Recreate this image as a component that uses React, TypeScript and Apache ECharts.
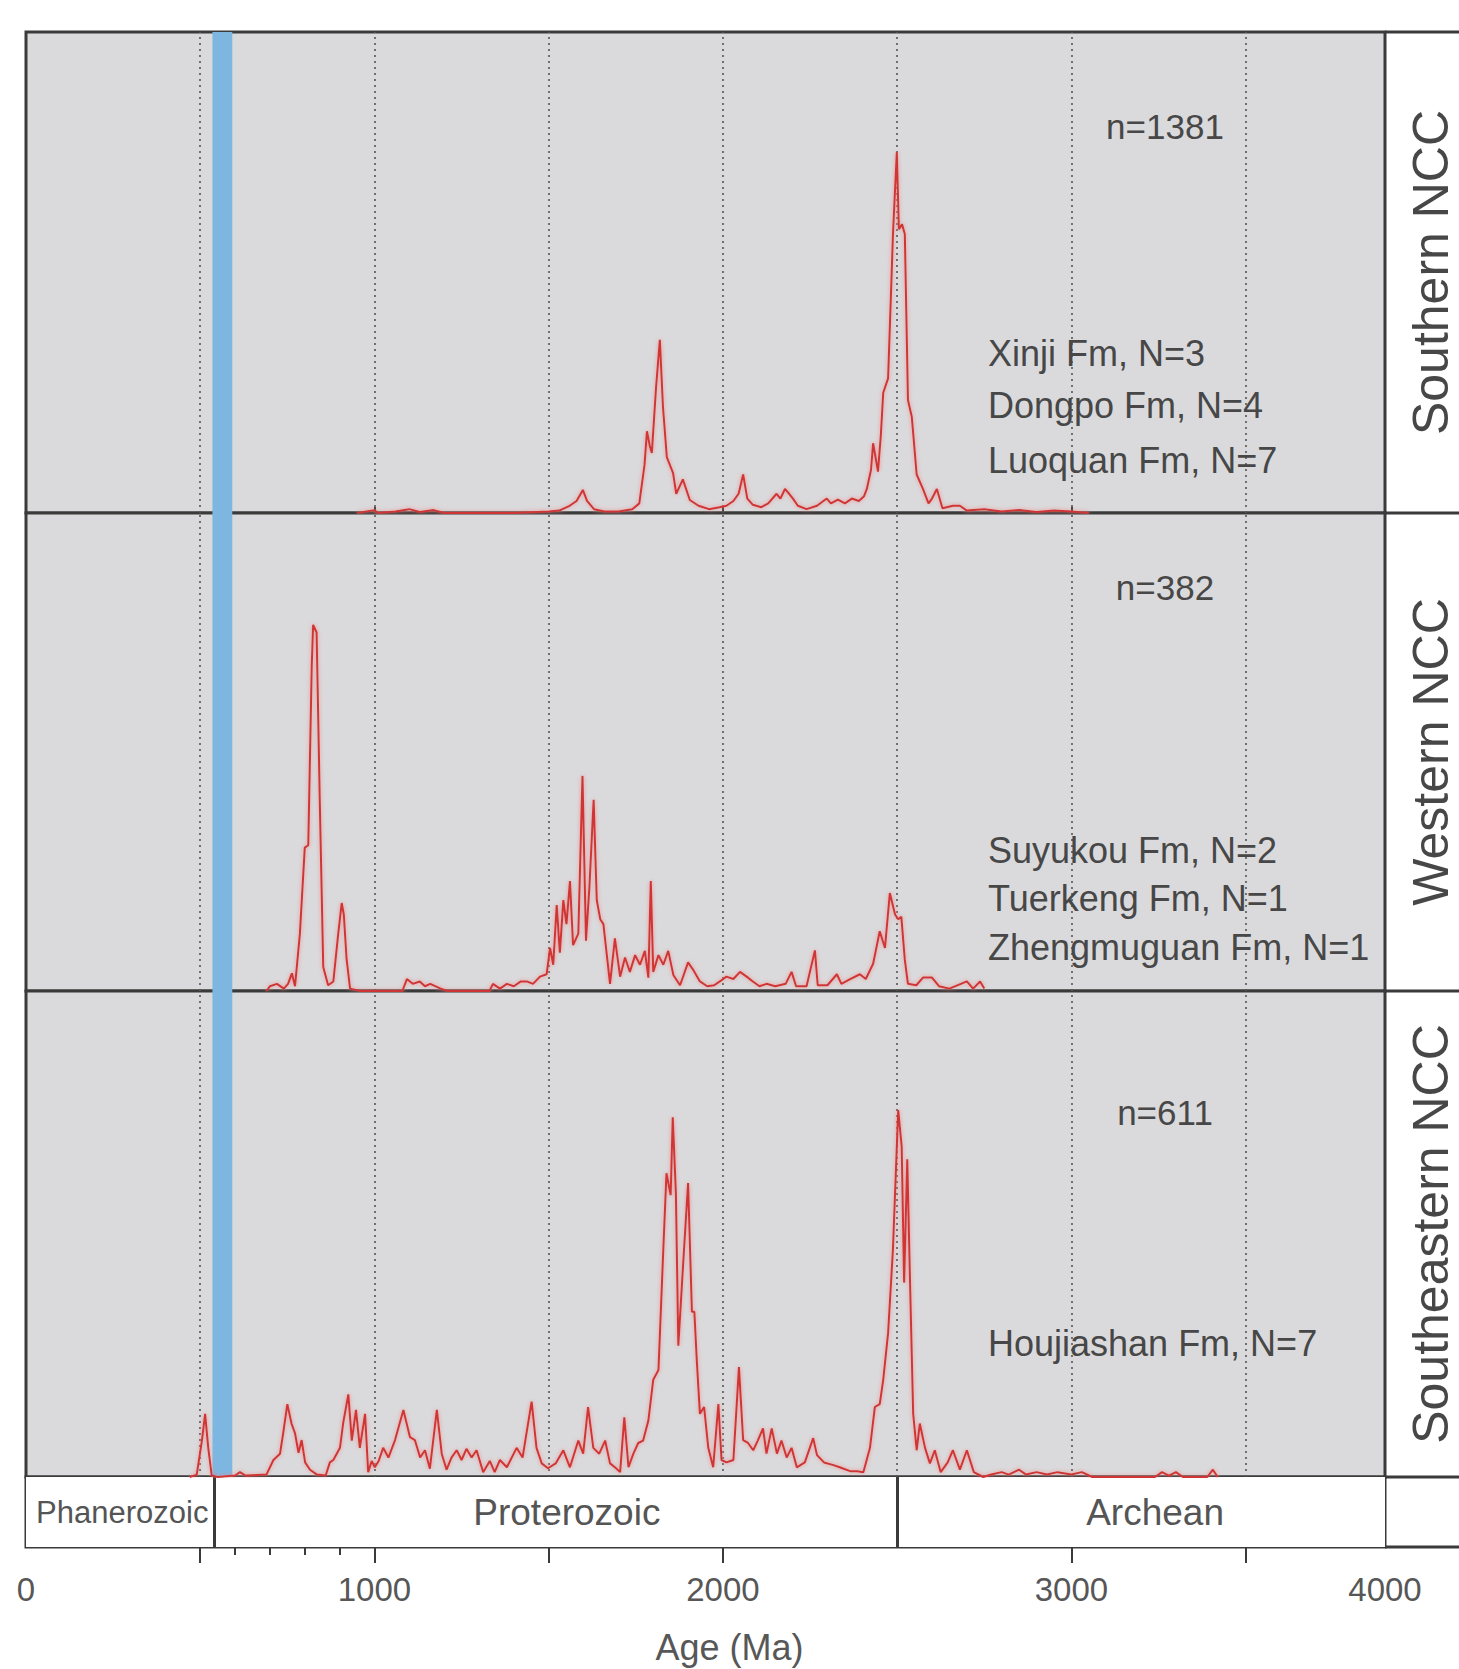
import React, { useEffect, useRef } from "react";
import * as echarts from "echarts";

// ---------- data ----------
const regions = ["Southern NCC", "Western NCC", "Southeastern NCC"];
const sampleCounts = ["n=1381", "n=382", "n=611"];
const formations = [
  ["Xinji Fm, N=3", "Dongpo Fm, N=4", "Luoquan Fm, N=7"],
  ["Suyukou Fm, N=2", "Tuerkeng Fm, N=1", "Zhengmuguan Fm, N=1"],
  ["Houjiashan Fm, N=7"],
];
const eonNames = ["Phanerozoic", "Proterozoic", "Archean"];
const eonBounds = [0, 541, 2500, 3900];
const gridLines = [500, 1000, 1500, 2000, 2500, 3000, 3500];
const blueBand = [535, 592];
const axisLabelValues = [0, 1000, 2000, 3000, 3900];
const majorTicks = [500, 1000, 1500, 2000, 3000, 3500];
const minorTicks = [600, 700, 800, 900];

// relative probability (% of panel height) vs age (Ma)
const southern = [
  [950, 0], [1000, 0.6], [1010, 0], [1060, 0.3], [1100, 0.8], [1130, 0.2], [1170, 0.6], [1200, 0],
  [1400, 0], [1500, 0.3], [1530, 0.5], [1560, 1.5], [1580, 2.5], [1598, 4.8], [1610, 2.5], [1630, 0.8],
  [1660, 0.3], [1700, 0.3], [1740, 0.8], [1760, 2], [1775, 10], [1782, 17], [1790, 14], [1796, 12.5],
  [1808, 26], [1819, 36], [1828, 22], [1839, 11.6], [1857, 8.3], [1866, 4], [1885, 7], [1905, 2.7],
  [1930, 1.5], [1960, 0.8], [1990, 1.2], [2010, 1.5], [2030, 2.5], [2045, 4], [2058, 8], [2070, 3],
  [2086, 1.7], [2110, 1.2], [2130, 2], [2154, 4], [2165, 3], [2178, 5], [2190, 4], [2201, 3],
  [2215, 1.5], [2240, 0.8], [2270, 1.5], [2298, 3], [2310, 2], [2330, 2.8], [2350, 2], [2370, 3],
  [2390, 2.5], [2405, 3.5], [2413, 5], [2425, 9], [2431, 14.5], [2445, 8.6], [2453, 16], [2460, 25],
  [2474, 28], [2482, 45], [2488, 58], [2499, 75], [2505, 59], [2514, 60], [2522, 58], [2531, 23.5],
  [2542, 20], [2556, 8], [2574, 5], [2590, 2], [2600, 3], [2614, 5], [2630, 1], [2660, 1.5],
  [2680, 1.5], [2700, 0.5], [2750, 0.8], [2800, 0.3], [2850, 0.6], [2900, 0.2], [2950, 0.5],
  [3000, 0.3], [3050, 0],
];
const western = [
  [690, 0], [700, 1], [720, 1.5], [740, 0.5], [752, 1.5], [763, 3.7], [772, 1], [786, 12], [800, 30],
  [810, 30.5], [820, 68], [824, 76.6], [834, 75], [843, 40], [853, 5], [867, 1.2], [882, 2], [896, 12],
  [906, 18.4], [912, 16], [920, 6.7], [930, 0.5], [960, 0], [1080, 0], [1093, 2.5], [1110, 1.5],
  [1130, 2], [1145, 1], [1160, 1.5], [1190, 0.5], [1210, 0], [1330, 0], [1340, 1.5], [1360, 0.5],
  [1380, 1.5], [1400, 1], [1420, 2], [1437, 2], [1455, 1.5], [1475, 3], [1494, 3.5], [1504, 9],
  [1513, 5.5], [1523, 18], [1532, 8], [1542, 19], [1551, 14], [1561, 23], [1570, 9.6], [1585, 12],
  [1597, 45], [1607, 10.5], [1617, 22], [1629, 40], [1638, 19], [1648, 15], [1657, 14], [1676, 1.5],
  [1690, 11], [1705, 3], [1719, 7], [1733, 4], [1748, 7.5], [1762, 5.5], [1776, 8.4], [1786, 2.8],
  [1793, 23], [1800, 4], [1815, 7.5], [1829, 5.5], [1843, 8.4], [1858, 3.3], [1877, 1.2], [1900, 6],
  [1915, 4.4], [1934, 2], [1955, 1], [1975, 1.2], [1991, 2], [2010, 3], [2030, 2.5], [2049, 4],
  [2068, 3], [2086, 2], [2105, 1], [2125, 1.5], [2150, 1], [2180, 1.5], [2197, 4], [2210, 1],
  [2240, 1], [2264, 8.5], [2272, 1.2], [2300, 1.2], [2327, 3.5], [2340, 1.5], [2365, 2.5],
  [2393, 3.5], [2410, 2.5], [2431, 5.7], [2450, 12.5], [2465, 9], [2479, 20.5], [2494, 16],
  [2503, 15], [2512, 15.5], [2522, 6.5], [2531, 1.5], [2555, 1.2], [2574, 2.8], [2600, 2.8],
  [2620, 1], [2650, 0.5], [2700, 2], [2718, 0.5], [2738, 2], [2750, 0.5],
];
const southeastern = [
  [470, 0], [490, 0.5], [505, 7.6], [514, 13], [523, 6], [533, 0.3], [550, 0], [600, 0.3], [614, 1],
  [630, 0.3], [690, 0.5], [710, 3.5], [729, 4.8], [738, 9], [750, 15], [762, 11], [772, 9], [782, 5],
  [791, 7.6], [801, 3], [815, 1.5], [835, 0.5], [860, 0.3], [872, 3], [882, 3.5], [901, 6], [910, 11],
  [925, 17], [935, 7.5], [947, 13.8], [958, 6], [973, 13], [982, 1], [992, 3.3], [1001, 2],
  [1012, 3.3], [1025, 6], [1040, 4], [1059, 7.6], [1083, 13.8], [1102, 8.2], [1116, 7.6], [1131, 4],
  [1145, 5.5], [1159, 1.7], [1179, 13.8], [1193, 4.8], [1207, 1.5], [1221, 4], [1236, 5.5],
  [1250, 3.5], [1264, 5.8], [1279, 4], [1293, 5.5], [1312, 1], [1331, 3.3], [1345, 1], [1360, 3.5],
  [1380, 2], [1408, 6], [1425, 4], [1451, 15.5], [1465, 6], [1480, 2.8], [1498, 1.8], [1520, 2.8],
  [1542, 5.5], [1561, 2], [1585, 7.5], [1599, 4.8], [1613, 14.4], [1628, 6], [1645, 4.8],
  [1662, 7.5], [1676, 2.8], [1690, 2], [1705, 1], [1717, 12.3], [1729, 2], [1743, 4.8], [1757, 7],
  [1771, 7.5], [1786, 11.6], [1800, 20], [1815, 22], [1829, 47], [1838, 62.5], [1850, 58],
  [1856, 74], [1865, 58.5], [1872, 27], [1886, 44], [1900, 60.5], [1911, 34], [1918, 34], [1925, 24],
  [1934, 13], [1946, 14.4], [1958, 6], [1972, 2], [1987, 15], [1996, 3.5], [2010, 3], [2030, 3.5],
  [2046, 22.6], [2058, 7.6], [2072, 7], [2087, 5.5], [2100, 7.5], [2115, 10], [2125, 4.8],
  [2140, 10], [2155, 4.8], [2168, 7.5], [2183, 4], [2197, 6], [2212, 2], [2235, 3], [2259, 8],
  [2270, 4.5], [2290, 3], [2315, 2.5], [2335, 2], [2365, 1.2], [2385, 1.2], [2403, 1], [2422, 6],
  [2436, 14.4], [2450, 15], [2460, 20], [2474, 29.6], [2488, 47], [2503, 75.5], [2513, 68],
  [2520, 40], [2529, 65.4], [2537, 40], [2546, 13], [2556, 5.5], [2565, 11], [2580, 6], [2594, 2.8],
  [2608, 5.5], [2625, 1], [2645, 3], [2660, 5.5], [2680, 1.5], [2700, 5.5], [2720, 1], [2747, 0],
  [2770, 0.5], [2800, 1], [2820, 0.5], [2850, 1.5], [2870, 0.5], [2900, 1], [2930, 0.5], [2960, 1],
  [3000, 0.5], [3030, 1], [3060, 0], [3240, 0], [3260, 1], [3280, 0.3], [3300, 1], [3320, 0],
  [3390, 0], [3406, 1.5], [3420, 0],
];
const panelSeries = [southern, western, southeastern];

// ---------- layout ----------
const W = 1459;
const H = 1669;
const LEFT = 26;
const RIGHT_EDGE = 1385;
const panels = [
  { top: 32, height: 481 },
  { top: 513, height: 478 },
  { top: 991, height: 486 },
];
const eonRow = { top: 1477, height: 70 };
const eonLabelStyle = [
  { fontSize: 31, offset: [2, 0] },
  { fontSize: 37, offset: [11, 0] },
  { fontSize: 37, offset: [14, 0] },
];
const countY = [126, 587, 1112];
const formationY = [[353, 405, 460], [850, 898, 947], [1343]];
const FONT = "'Liberation Sans', Arial, Helvetica, sans-serif";
const BORDER = "#3a3a3a";
const TEXT = "#474747";

export default function App() {
  const ref = useRef<HTMLDivElement>(null);

  useEffect(() => {
    document.body.style.margin = "0";
    if (!ref.current) return;
    const chart = echarts.init(ref.current, undefined, { renderer: "svg" });

    const grids: any[] = panels.map((p) => ({
      left: LEFT,
      top: p.top,
      width: RIGHT_EDGE - LEFT,
      height: p.height,
      outerBoundsMode: "none",
      containLabel: false,
      show: true,
      backgroundColor: "#dadadc",
      borderColor: BORDER,
      borderWidth: 3,
    }));
    grids.push({
      left: LEFT,
      top: eonRow.top,
      width: RIGHT_EDGE - LEFT,
      height: eonRow.height,
      outerBoundsMode: "none",
      containLabel: false,
      show: true,
      backgroundColor: "#ffffff",
      borderColor: BORDER,
      borderWidth: 3,
    });

    const xAxes: any[] = panels.map((_, i) => ({
      type: "value",
      gridIndex: i,
      min: 0,
      max: 3900,
      interval: 500,
      axisLine: { show: false },
      axisLabel: { show: false },
      splitLine: { show: false },
      axisTick:
        i === 0
          ? {
              show: true,
              inside: true,
              length: 6,
              customValues: [1000, 2000, 3000],
              lineStyle: { color: BORDER, width: 2 },
            }
          : { show: false },
    }));
    xAxes.push({
      type: "value",
      gridIndex: 3,
      min: 0,
      max: 3900,
      interval: 500,
      position: "bottom",
      axisLine: { show: false },
      splitLine: { show: false },
      axisTick: {
        show: true,
        length: 16,
        customValues: majorTicks,
        lineStyle: { color: BORDER, width: 2 },
      },
      axisLabel: {
        show: true,
        customValues: axisLabelValues,
        margin: 26,
        fontSize: 33,
        color: "#575757",
        fontFamily: FONT,
        // the reference frame ends at the position labelled "4000"
        formatter: (v: number) => (v === 3900 ? "4000" : String(v)),
      },
      name: "Age (Ma)",
      nameLocation: "middle",
      nameGap: 82,
      nameTextStyle: {
        fontSize: 36,
        lineHeight: 36,
        color: "#575757",
        fontFamily: FONT,
        padding: [0, 0, 0, 48],
      },
    });
    xAxes.push({
      type: "value",
      gridIndex: 3,
      min: 0,
      max: 3900,
      interval: 500,
      position: "bottom",
      axisLine: { show: false },
      splitLine: { show: false },
      axisLabel: { show: false },
      axisTick: {
        show: true,
        length: 8,
        customValues: minorTicks,
        lineStyle: { color: BORDER, width: 2 },
      },
    });

    const yAxes: any[] = panels.map((_, i) => ({
      type: "value",
      gridIndex: i,
      min: 0,
      max: 100,
      position: "right",
      axisLine: { show: false },
      axisTick: { show: false },
      axisLabel: { show: false },
      splitLine: { show: false },
      name: regions[i],
      nameLocation: "middle",
      nameRotate: 90,
      nameGap: 21,
      nameTextStyle: { fontSize: 50, color: TEXT, fontFamily: FONT },
    }));
    yAxes.push({
      type: "value",
      gridIndex: 3,
      min: 0,
      max: 1,
      show: false,
    });

    const series: any[] = panelSeries.map((data, i) => ({
      type: "line",
      xAxisIndex: i,
      yAxisIndex: i,
      data,
      symbol: "none",
      smooth: false,
      z: 5,
      lineStyle: {
        color: "#d03636",
        width: 2,
        shadowColor: "rgba(240,130,130,0.85)",
        shadowBlur: 4,
      },
      markArea: {
        silent: true,
        itemStyle: { color: "#7db7e1", borderWidth: 0 },
        data: [[{ xAxis: blueBand[0] }, { xAxis: blueBand[1] }]],
      },
      markLine: {
        silent: true,
        symbol: ["none", "none"],
        label: { show: false },
        lineStyle: { color: "#555555", type: [2, 4], width: 1.6 },
        data: gridLines.map((v) => ({ xAxis: v })),
      },
    }));

    series.push({
      type: "line",
      xAxisIndex: 3,
      yAxisIndex: 3,
      data: [],
      markArea: {
        silent: true,
        itemStyle: { color: "#ffffff" },
        label: {
          show: true,
          position: "inside",
          color: "#555555",
          fontFamily: FONT,
          fontSize: 37,
        },
        data: eonNames.map((name, i) => [
          {
            name,
            xAxis: eonBounds[i],
            label: eonLabelStyle[i],
          },
          { xAxis: eonBounds[i + 1] },
        ]),
      },
      markLine: {
        silent: true,
        symbol: ["none", "none"],
        label: { show: false },
        lineStyle: { color: BORDER, type: "solid", width: 3 },
        data: eonBounds.slice(1, 3).map((v) => ({ xAxis: v })),
      },
    });

    const graphic: any[] = [];
    // right label column borders
    [32, 513, 991, 1477, 1547].forEach((y) => {
      graphic.push({
        type: "line",
        shape: { x1: RIGHT_EDGE, y1: y, x2: W, y2: y },
        style: { stroke: BORDER, lineWidth: 3 },
        z: 10,
      });
    });
    sampleCounts.forEach((t, i) => {
      graphic.push({
        type: "text",
        x: 1165,
        y: countY[i],
        z: 20,
        style: {
          text: t,
          fill: TEXT,
          fontSize: 35,
          fontFamily: FONT,
          textAlign: "center",
          textVerticalAlign: "middle",
        },
      });
    });
    formations.forEach((lines, i) => {
      lines.forEach((t, j) => {
        graphic.push({
          type: "text",
          x: 988,
          y: formationY[i][j],
          z: 20,
          style: {
            text: t,
            fill: TEXT,
            fontSize: 36,
            fontFamily: FONT,
            textAlign: "left",
            textVerticalAlign: "middle",
          },
        });
      });
    });

    chart.setOption({
      animation: false,
      backgroundColor: "#ffffff",
      textStyle: { fontFamily: FONT },
      grid: grids,
      xAxis: xAxes,
      yAxis: yAxes,
      series,
      graphic,
    });

    return () => chart.dispose();
  }, []);

  return <div ref={ref} style={{ width: W, height: H }} />;
}
